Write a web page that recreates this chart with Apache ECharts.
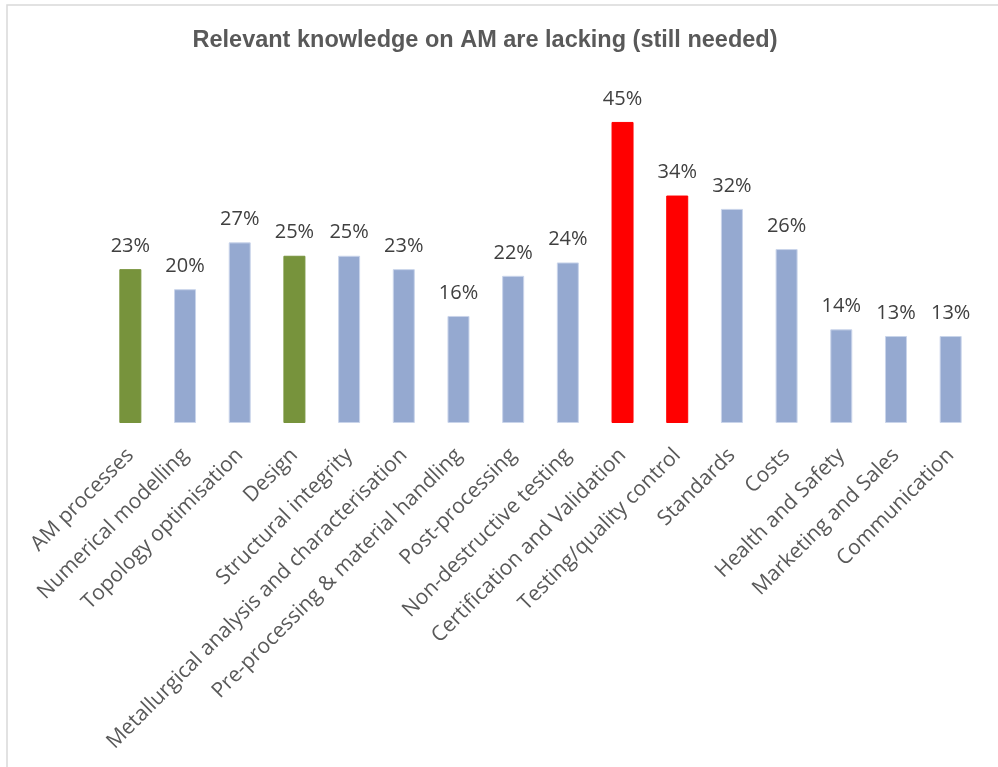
<!DOCTYPE html>
<html>
<head>
<meta charset="utf-8">
<script src="https://cdn.jsdelivr.net/npm/echarts@6/dist/echarts.min.js"></script>
<style>
html,body{margin:0;padding:0;background:#fff;}
#chart{width:998px;height:767px;}
</style>
</head>
<body>
<div id="chart"></div>
<script>
const titleText = 'Relevant knowledge on AM are lacking (still needed)';
const categories = ['AM processes','Numerical modelling','Topology optimisation','Design','Structural integrity','Metallurgical analysis and characterisation','Pre-processing & material handling','Post-processing','Non-destructive testing','Certification and Validation','Testing/quality control','Standards','Costs','Health and Safety','Marketing and Sales','Communication'];
const values = [23,20,27,25,25,23,16,22,24,45,34,32,26,14,13,13];
const colorGroups = ['green','blue','blue','green','blue','blue','blue','blue','blue','red','red','blue','blue','blue','blue','blue'];
const palette = {green:'#77933C', blue:'#95A9D0', red:'#FF0000'};

const chart = echarts.init(document.getElementById('chart'));
chart.setOption({
  animation:false,
  backgroundColor:'#fff',
  title:{
    text:titleText, left:480, top:24, textAlign:'center',
    textStyle:{fontFamily:'Liberation Sans, sans-serif', fontWeight:'bold', fontSize:23.5, color:'#595959'}
  },
  graphic:[{type:'rect', shape:{x:7,y:5,width:1000,height:800}, style:{fill:'none', stroke:'#d9d9d9', lineWidth:1.5}, silent:true}],
  grid:{left:103, right:20, top:88.5, bottom:344},
  xAxis:{
    type:'category', data:categories,
    axisLine:{show:false}, axisTick:{show:false},
    axisLabel:{rotate:45, interval:0, margin:29, fontFamily:'Open Sans, sans-serif', fontSize:21, color:'#595959'}
  },
  yAxis:{type:'value', min:0, max:50, show:false, splitLine:{show:false}},
  series:[{
    type:'bar', barWidth:22,
    data: values.map((v,i)=>({value:v, itemStyle:{color:palette[colorGroups[i]], borderColor: colorGroups[i]==='blue' ? '#c9d4ea' : palette[colorGroups[i]], borderWidth:1}})),
    label:{show:true, position:'top', distance:13, formatter:'{c}%', fontFamily:'Open Sans, sans-serif', fontSize:20, color:'#404040'}
  }]
});
</script>
</body>
</html>
